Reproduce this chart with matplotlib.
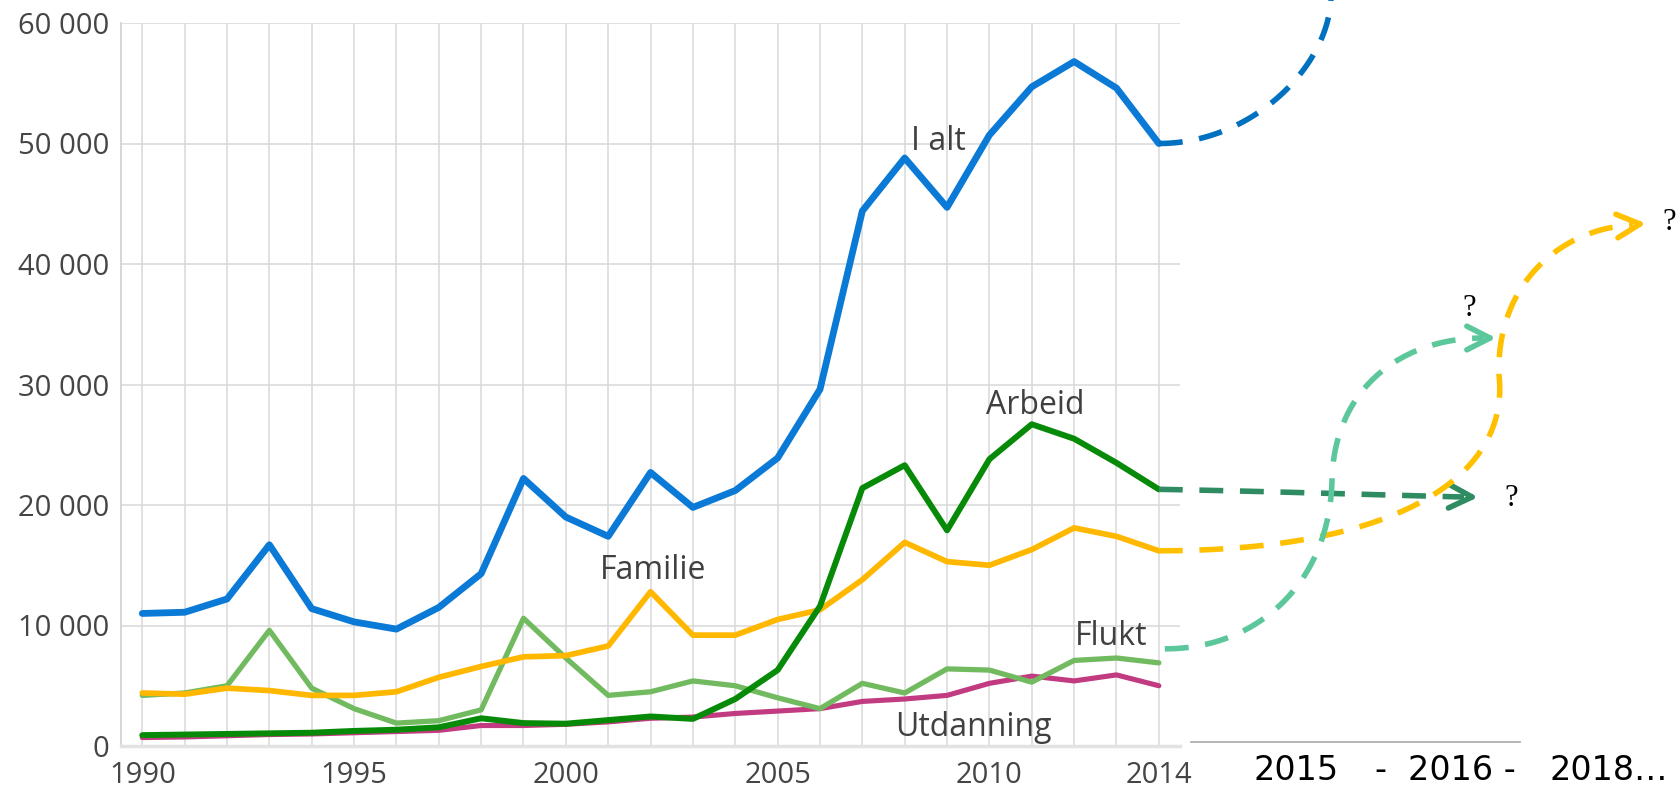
import numpy as np
import matplotlib
matplotlib.use("Agg")
import matplotlib.pyplot as plt

# innvandringer etter innvandringsgrunn, 1990-2014
years = list(range(1990, 2015))
i_alt = [11000, 11100, 12200, 16700, 11400, 10300, 9700, 11500, 14300, 22200,
         19000, 17400, 22700, 19800, 21200, 23900, 29600, 44400, 48800, 44700,
         50700, 54700, 56800, 54600, 50000]
arbeid = [900, 950, 1000, 1050, 1100, 1250, 1350, 1550, 2300, 1900,
          1850, 2150, 2450, 2250, 3900, 6300, 11600, 21400, 23300, 17900,
          23800, 26700, 25500, 23500, 21300]
familie = [4400, 4300, 4800, 4600, 4200, 4200, 4500, 5700, 6600, 7400,
           7500, 8300, 12800, 9200, 9200, 10500, 11300, 13800, 16900, 15300,
           15000, 16300, 18100, 17400, 16200]
flukt = [4200, 4400, 5000, 9600, 4800, 3100, 1900, 2100, 3000, 10600,
         7300, 4200, 4500, 5400, 5000, 4000, 3100, 5200, 4400, 6400,
         6300, 5300, 7100, 7300, 6900]
utdanning = [700, 750, 850, 950, 1000, 1100, 1200, 1300, 1700, 1700,
             1800, 2000, 2300, 2400, 2700, 2900, 3100, 3700, 3900, 4200,
             5200, 5800, 5400, 5900, 5000]

x_labels = [1990, 1995, 2000, 2005, 2010, 2014]
y_ticks = [0, 10000, 20000, 30000, 40000, 50000, 60000]
future_labels = ["2015", "-", "2016 -", "2018…"]

W, H, DPI = 1681, 787, 100
fig = plt.figure(figsize=(W / DPI, H / DPI), dpi=DPI)
ax = fig.add_axes([120.7 / W, (H - 746) / H, (1180 - 120.7) / W, (746 - 23) / H])
ax.set_xlim(1989.49, 2014.5)
ax.set_ylim(0, 60000)

grid_col = "#d9d9d9"
ax.set_xticks(years, minor=True)
ax.set_xticks(x_labels)
ax.set_yticks(y_ticks)
ax.set_yticklabels([f"{v:,}".replace(",", " ") for v in y_ticks])
ax.grid(which="both", color=grid_col, lw=1.1)
ax.set_axisbelow(True)
for s in ["top", "right"]:
    ax.spines[s].set_visible(False)
ax.spines["left"].set_color("#d0d0d0")
ax.spines["left"].set_linewidth(1.2)
ax.spines["bottom"].set_color("#e2e2e2")
ax.spines["bottom"].set_linewidth(2.5)
ax.tick_params(which="both", length=0)
ax.tick_params(axis="x", pad=11)
ax.tick_params(axis="y", pad=8)
for lab in ax.get_xticklabels() + ax.get_yticklabels():
    lab.set_fontfamily("Open Sans")
    lab.set_fontsize(21)
    lab.set_color("#454545")

# serier
series = [
    (utdanning, "#c23b80", 3.7),
    (flukt, "#72ba60", 3.8),
    (familie, "#ffb700", 4.1),
    (arbeid, "#078a07", 4.3),
    (i_alt, "#0a7ad6", 4.9),
]
for vals, col, lw in series:
    ax.plot(years, vals, color=col, lw=lw, solid_joinstyle="round",
            solid_capstyle="round", clip_on=False)

lab_kw = dict(fontfamily="Open Sans", fontsize=23, color="#404040",
              ha="center", va="baseline")
for txt, cx, by in [("I alt", 938, 150), ("Arbeid", 1035, 414),
                    ("Familie", 653, 579), ("Flukt", 1111, 645),
                    ("Utdanning", 973, 736)]:
    fig.text(cx / W, 1 - by / H, txt, **lab_kw)


# piler mot fremtiden (tegnet i pikselkoordinater)
def to_px(year, value):
    x, y = ax.transData.transform((year, value))
    return x, H - y


def bezier(p0, p1, p2, p3, n=80):
    t = np.linspace(0, 1, n)[:, None]
    p = np.array([p0, p1, p2, p3], float)
    return ((1 - t) ** 3 * p[0] + 3 * (1 - t) ** 2 * t * p[1]
            + 3 * (1 - t) * t ** 2 * p[2] + t ** 3 * p[3])


def draw_px(pts, col, **kw):
    pts = np.asarray(pts, float)
    d = ax.transData.inverted().transform(np.column_stack([pts[:, 0], H - pts[:, 1]]))
    ax.plot(d[:, 0], d[:, 1], color=col, clip_on=False, **kw)


def chevron(tip, ang, col, size=26, half=27):
    a = np.radians(ang)
    for s in (-1, 1):
        b = a + np.pi + s * np.radians(half)
        end = (tip[0] + size * np.cos(b), tip[1] + size * np.sin(b))
        draw_px([end, tip], col, lw=4, solid_capstyle="round")


dash = dict(lw=4, linestyle=(0, (4.3, 3.0)))

# I alt
p0 = to_px(2014, i_alt[-1])
draw_px(bezier(p0, (p0[0] + 95, p0[1]), (1331, 64), (1331, -5)), "#0070c0", **dash)

# Arbeid
p0 = to_px(2014, arbeid[-1])
draw_px(bezier(p0, (1270, p0[1] + 2), (1380, 495), (1464, 497)), "#2e8b62", **dash)
chevron((1472, 497), 2, "#2e8b62")

# Familie
p0 = to_px(2014, familie[-1])
seg = np.vstack([bezier(p0, (1410, p0[1]), (1510, 470), (1499, 375)),
                 bezier((1499, 375), (1496, 285), (1560, 228), (1633, 225))])
draw_px(seg, "#ffc000", **dash)
chevron((1640, 224), -5, "#ffc000")

# Flukt
p0 = to_px(2014, flukt[-1])
p0 = (p0[0] + 6, p0[1] - 14)
seg = np.vstack([bezier(p0, (1260, p0[1]), (1330, 580), (1332, 480)),
                 bezier((1332, 480), (1334, 390), (1400, 338), (1483, 338))])
draw_px(seg, "#5cc79a", **dash)
chevron((1490, 338), 0, "#5cc79a")

q_kw = dict(fontfamily=["Liberation Serif", "DejaVu Serif"], fontsize=22,
            color="black", ha="center", va="center")
for qx, qy in [(1511, 498), (1469, 308), (1669, 223)]:
    fig.text(qx / W, 1 - qy / H, "?", **q_kw)

# tidsakse for fremskrivning
fig.add_artist(plt.Line2D([1191 / W, 1520 / W], [1 - 742 / H, 1 - 742 / H],
                          color="#b0b0b0", lw=1.3))
for txt, lx in zip(future_labels, [1254, 1374, 1408, 1550]):
    fig.text(lx / W, 1 - 770 / H, txt, fontfamily="DejaVu Sans", fontsize=24,
             color="black", ha="left", va="center")

fig.savefig("out.png", dpi=DPI)
